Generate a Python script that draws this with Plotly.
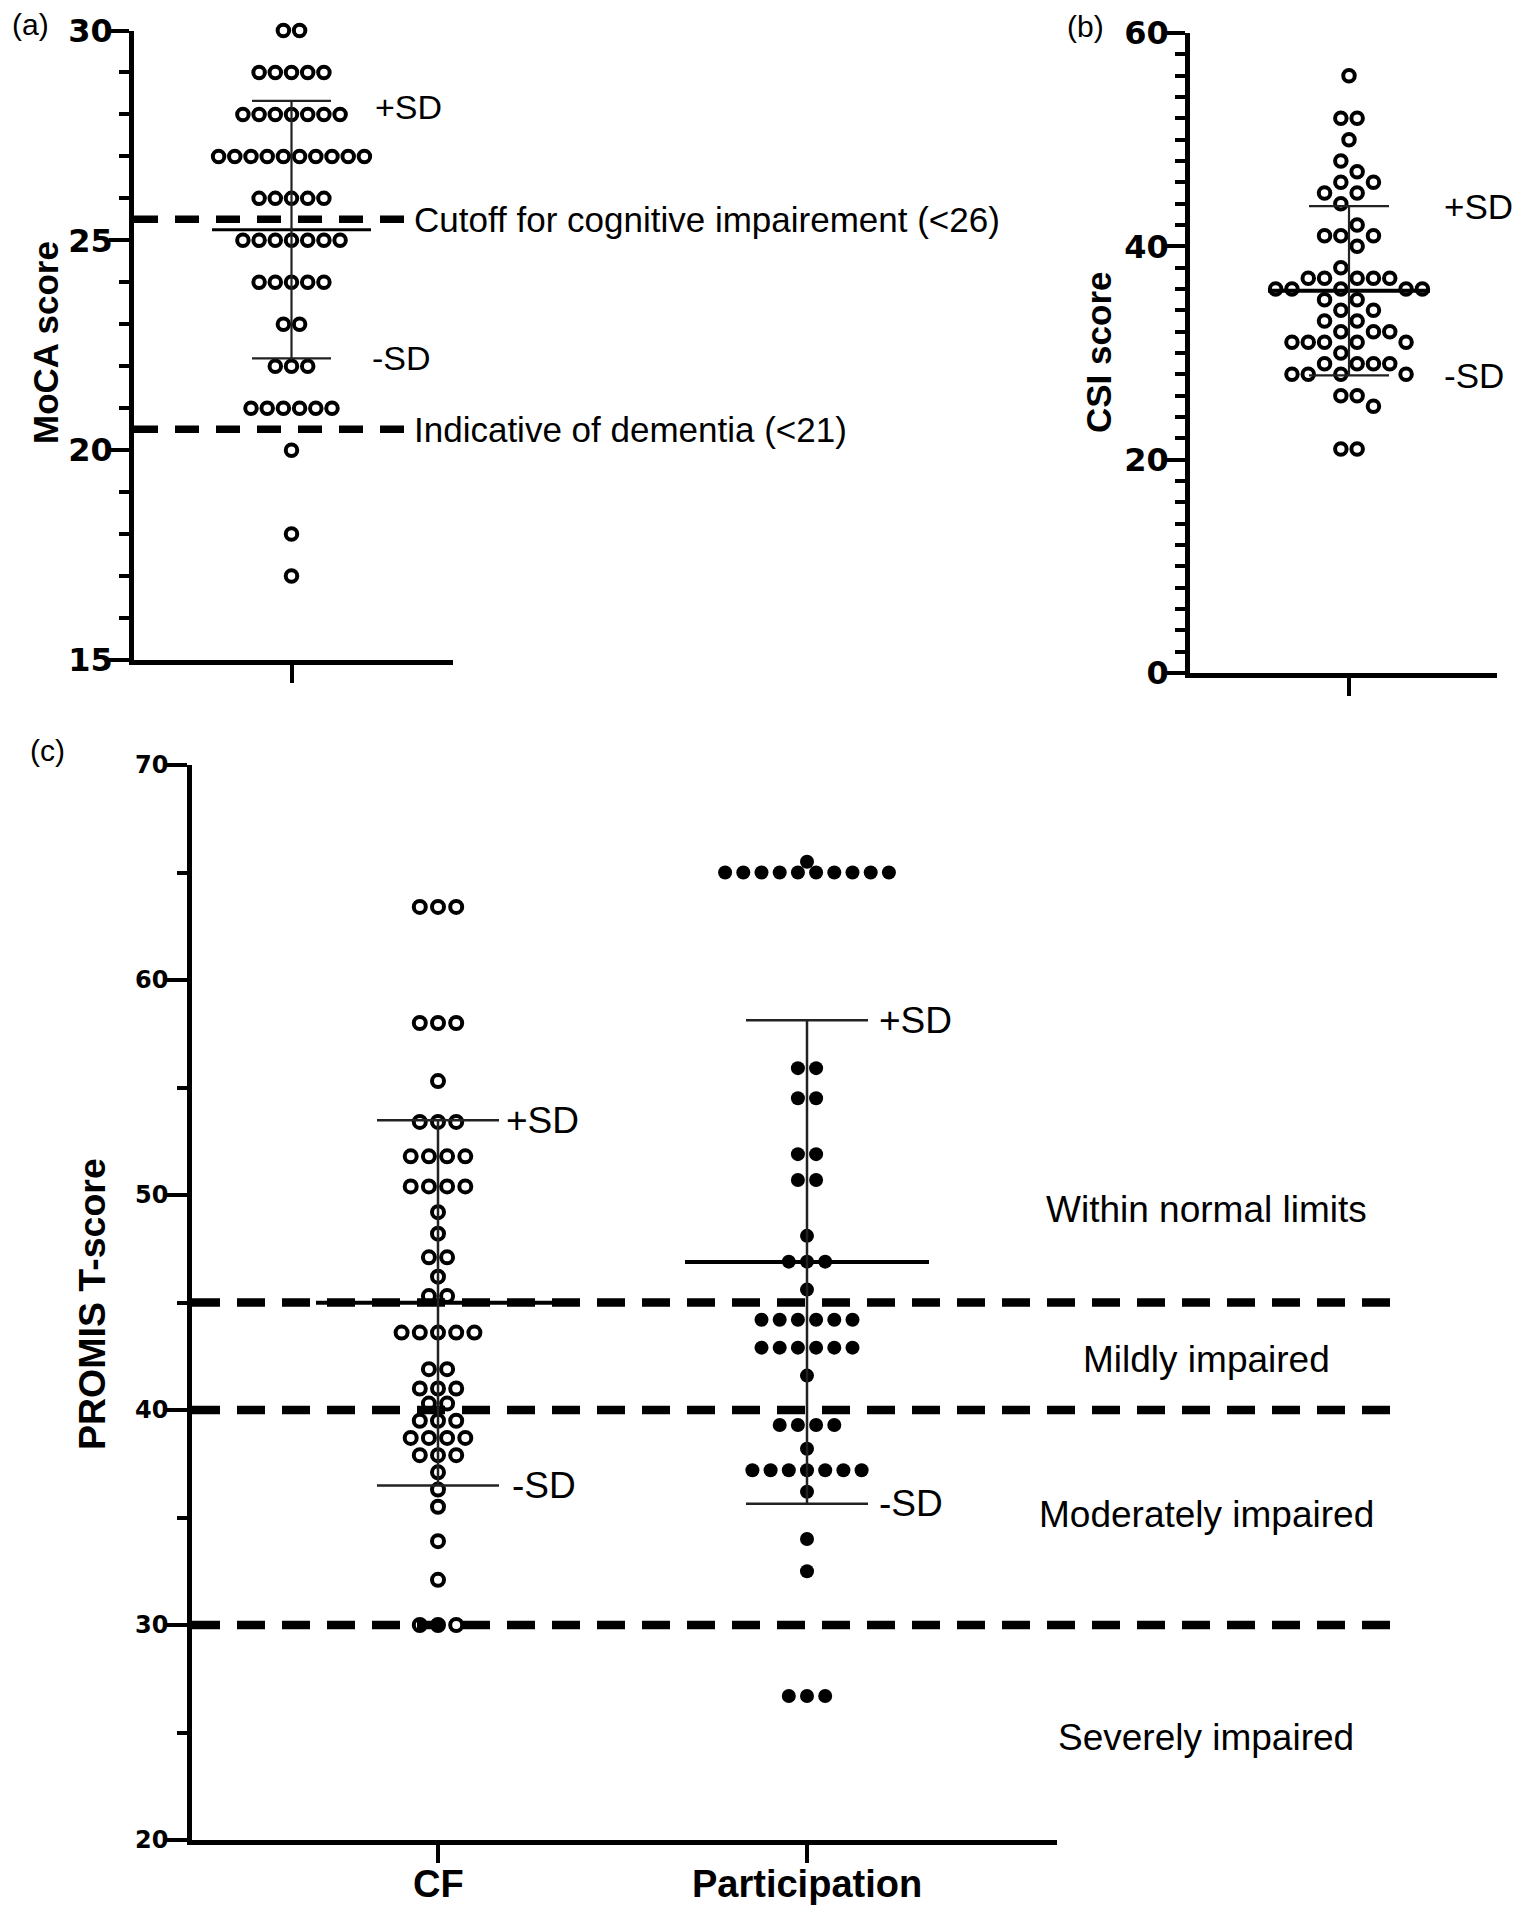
import numpy as np
import plotly.graph_objects as go

# ---------------- data ----------------
MOCA_SCORES = [30, 29, 28, 27, 26, 25, 24, 23, 22, 21, 20, 18, 17]
MOCA_COUNTS = [2, 5, 7, 10, 5, 7, 5, 2, 3, 6, 1, 1, 1]
MOCA_CUTOFFS = [25.5, 20.5]
MOCA_CUTOFF_LABELS = ["Cutoff for cognitive impairement (<26)", "Indicative of dementia (<21)"]

CSI_SCORES = [56, 52, 50, 48, 47, 46, 45, 44, 42, 41, 40, 38, 37, 36, 35, 34, 33, 32, 31, 30, 29, 28, 26, 25, 21]
CSI_COUNTS = [1, 2, 1, 1, 1, 2, 2, 1, 1, 3, 1, 1, 5, 5, 2, 2, 2, 3, 5, 1, 4, 4, 2, 1, 2]

CF_SCORES = [63.4, 58.0, 55.3, 53.4, 51.8, 50.4, 49.2, 48.2, 47.1, 46.2, 45.3, 43.6, 41.9, 41.0,
             40.3, 39.5, 38.7, 37.9, 37.1, 36.3, 35.5, 33.9, 32.1, 30.0]
CF_COUNTS = [3, 3, 1, 3, 4, 4, 1, 1, 2, 1, 2, 5, 2, 3, 2, 3, 4, 3, 1, 1, 1, 1, 1, 3]
PART_SCORES = [65.5, 65.0, 55.9, 54.5, 51.9, 50.7, 48.1, 46.9, 45.6, 44.2, 42.9, 41.6, 39.3, 38.2,
               37.2, 36.2, 34.0, 32.5, 26.7]
PART_COUNTS = [1, 10, 2, 2, 2, 2, 1, 3, 1, 6, 6, 1, 4, 1, 7, 1, 1, 1, 3]
PROMIS_CATEGORIES = ["CF", "Participation"]
PROMIS_CUTOFFS = [45, 40, 30]
PROMIS_BAND_LABELS = ["Within normal limits", "Mildly impaired", "Moderately impaired", "Severely impaired"]

# ---------------- geometry (screen pixels) ----------------
OFF = 8                      # default page margin around the plot div
W, H = 1524 - 2 * OFF, 1920 - 2 * OFF
FONT = "Liberation Sans, Arial, Helvetica, sans-serif"
TICKFONT = "DejaVu Sans, Liberation Sans, Arial, sans-serif"

A_AXIS_X, A_CAT_X, A_RIGHT_X, A_TOP_Y, A_BOT_Y = 134, 291.5, 453, 30.5, 660
B_AXIS_X, B_CAT_X, B_RIGHT_X, B_TOP_Y, B_BOT_Y = 1190, 1349, 1497, 33, 673
C_AXIS_X, C_CAT0_X, C_CAT1_X, C_RIGHT_X, C_DASH_END_X, C_TOP_Y, C_BOT_Y = 192, 438, 807, 1057, 1393, 765, 1840
C_PX_PER_CAT = C_CAT1_X - C_CAT0_X

SP_A, SP_B, SP_C = 16.2, 16.3, 18.2


def px_x(px):
    return (px - OFF) / W


def px_y(py):
    return 1 - (py - OFF) / H


def expand(scores, counts):
    return np.repeat(np.array(scores, dtype=float), counts)


def row_layout(scores, counts, step):
    xs, ys = [], []
    for v, n in zip(scores, counts):
        for i in range(n):
            xs.append((i - (n - 1) / 2) * step)
            ys.append(v)
    return np.array(xs), np.array(ys)


def swarm_layout(scores, counts, step):
    """Greedy swarm on a half-step grid: a point may not share a slot with a point
    less than 1.5 score units away; isolated values sit on the centre line."""
    vals = sorted(expand(scores, counts), reverse=True)
    h = step / 2
    placed, xs = [], []
    for v in vals:
        isolated = all(abs(v - w) > 1.5 for w in vals if w != v) and list(vals).count(v) == 1
        if isolated:
            chosen = 0
        else:
            chosen = None
            for k in range(1, 80, 2):
                valid = [m for m in (-k, k)
                         if all(not (abs(m - pm) < 2 and abs(v - pv) < 1.5) for pm, pv in placed)]
                if valid:
                    if len(valid) == 2:
                        left = sum(1 for pm, _ in placed if pm < 0)
                        right = sum(1 for pm, _ in placed if pm > 0)
                        chosen = valid[1] if right < left else valid[0]
                    else:
                        chosen = valid[0]
                    break
        placed.append((chosen, v))
        xs.append(chosen * h)
    return np.array(xs), np.array(vals)


def stats(scores, counts):
    v = expand(scores, counts)
    return v.mean(), v.std(ddof=1)


def mean_sd_lines(center, m, s, mean_hw, cap_hw):
    x = [center - mean_hw, center + mean_hw, None,
         center - cap_hw, center + cap_hw, None,
         center - cap_hw, center + cap_hw, None,
         center, center]
    y = [m, m, None, m + s, m + s, None, m - s, m - s, None, m - s, m + s]
    return x, y


fig = go.Figure()

open_marker = dict(symbol="circle-open", size=11.5, color="black", line=dict(width=4, color="black"))

# ---- panel a ----
ax, ay = row_layout(MOCA_SCORES, MOCA_COUNTS, SP_A)
fig.add_trace(go.Scatter(x=ax, y=ay, mode="markers", marker=open_marker, cliponaxis=False,
                         xaxis="x", yaxis="y", showlegend=False))
am, asd = stats(MOCA_SCORES, MOCA_COUNTS)
lx, ly = mean_sd_lines(0, am, asd, 79.5, 39.5)
fig.add_trace(go.Scatter(x=lx[:2], y=ly[:2], mode="lines", line=dict(color="black", width=3),
                         xaxis="x", yaxis="y", showlegend=False, cliponaxis=False))
fig.add_trace(go.Scatter(x=lx[3:], y=ly[3:], mode="lines", line=dict(color="#222", width=2.2),
                         xaxis="x", yaxis="y", showlegend=False, cliponaxis=False))

# ---- panel b ----
bx, by = swarm_layout(CSI_SCORES, CSI_COUNTS, SP_B)
fig.add_trace(go.Scatter(x=bx, y=by, mode="markers", marker=open_marker, cliponaxis=False,
                         xaxis="x2", yaxis="y2", showlegend=False))
bm, bsd = stats(CSI_SCORES, CSI_COUNTS)
lx, ly = mean_sd_lines(0, bm, bsd, 81, 40)
fig.add_trace(go.Scatter(x=lx[:2], y=ly[:2], mode="lines", line=dict(color="black", width=4),
                         xaxis="x2", yaxis="y2", showlegend=False, cliponaxis=False))
fig.add_trace(go.Scatter(x=lx[3:], y=ly[3:], mode="lines", line=dict(color="#222", width=2.2),
                         xaxis="x2", yaxis="y2", showlegend=False, cliponaxis=False))

# ---- panel c ----
step_c = SP_C / C_PX_PER_CAT
cfx, cfy = row_layout(CF_SCORES, CF_COUNTS, step_c)
fig.add_trace(go.Scatter(x=cfx + 0, y=cfy, mode="markers",
                         marker=dict(symbol="circle-open", size=12, color="black",
                                     line=dict(width=4, color="black")),
                         cliponaxis=False, xaxis="x3", yaxis="y3", showlegend=False))
ppx, ppy = row_layout(PART_SCORES, PART_COUNTS, step_c)
fig.add_trace(go.Scatter(x=ppx + 1, y=ppy, mode="markers",
                         marker=dict(symbol="circle", size=14, color="black", line=dict(width=0)),
                         cliponaxis=False, xaxis="x3", yaxis="y3", showlegend=False))
cm, csd = stats(CF_SCORES, CF_COUNTS)
pm, psd = stats(PART_SCORES, PART_COUNTS)
for ci, (m, s) in enumerate([(cm, csd), (pm, psd)]):
    lx, ly = mean_sd_lines(ci, m, s, 122 / C_PX_PER_CAT, 61 / C_PX_PER_CAT)
    fig.add_trace(go.Scatter(x=lx[:2], y=ly[:2], mode="lines", line=dict(color="black", width=4),
                             xaxis="x3", yaxis="y3", showlegend=False, cliponaxis=False))
    fig.add_trace(go.Scatter(x=lx[3:], y=ly[3:], mode="lines", line=dict(color="#222", width=2.5),
                             xaxis="x3", yaxis="y3", showlegend=False, cliponaxis=False))


# ---------------- axes ----------------
def yax(domain, rng, dtick, minor_dtick, anchor, fsize, ticklen=20, standoff=0):
    return dict(domain=domain, range=rng, anchor=anchor, dtick=dtick, tick0=rng[0], automargin=False,
                showline=True, linewidth=4.5, linecolor="black", ticks="outside",
                ticklen=ticklen, tickwidth=4, tickcolor="black", showgrid=False, zeroline=False,
                ticklabelstandoff=standoff,
                tickfont=dict(family=TICKFONT, size=fsize, color="black", weight="bold"),
                minor=dict(dtick=minor_dtick, tick0=rng[0], ticks="outside", ticklen=10, tickwidth=4,
                           tickcolor="black", showgrid=False))


def xax(domain, rng, anchor, tickvals):
    return dict(domain=domain, range=rng, anchor=anchor, tickvals=tickvals,
                ticktext=[""] * len(tickvals),
                automargin=False, showline=True, linewidth=4.5, linecolor="black", ticks="outside",
                ticklen=18, tickwidth=4, tickcolor="black", showgrid=False, zeroline=False)


fig.update_layout(
    width=W, height=H, margin=dict(l=0, r=0, t=0, b=0, pad=0),
    paper_bgcolor="white", plot_bgcolor="white", showlegend=False,
    xaxis=xax([px_x(A_AXIS_X), px_x(A_RIGHT_X)], [A_AXIS_X - A_CAT_X, A_RIGHT_X - A_CAT_X], "y", [0]),
    yaxis=yax([px_y(A_BOT_Y), px_y(A_TOP_Y)], [15, 30], 5, 1, "x", 32, standoff=-10),
    xaxis2=xax([px_x(B_AXIS_X), px_x(B_RIGHT_X)], [B_AXIS_X - B_CAT_X, B_RIGHT_X - B_CAT_X], "y2", [0]),
    yaxis2=yax([px_y(B_BOT_Y), px_y(B_TOP_Y)], [0, 60], 20, 2, "x2", 32, ticklen=18, standoff=-8),
    xaxis3=xax([px_x(C_AXIS_X), px_x(C_RIGHT_X)],
               [(C_AXIS_X - C_CAT0_X) / C_PX_PER_CAT, (C_RIGHT_X - C_CAT0_X) / C_PX_PER_CAT],
               "y3", [0, 1]),
    yaxis3=yax([px_y(C_BOT_Y), px_y(C_TOP_Y)], [20, 70], 10, 5, "x3", 24, ticklen=22, standoff=-8),
)

# ---------------- dashed reference lines ----------------
shapes = []
for v in MOCA_CUTOFFS:
    shapes.append(dict(type="line", xref="paper", yref="y", x0=px_x(A_AXIS_X), x1=px_x(404), y0=v, y1=v,
                       line=dict(color="black", width=7.5, dash="24px,17px"), layer="below"))
for v in PROMIS_CUTOFFS:
    shapes.append(dict(type="line", xref="paper", yref="y3", x0=px_x(C_AXIS_X), x1=px_x(C_DASH_END_X),
                       y0=v, y1=v, line=dict(color="black", width=8.5, dash="28px,17px"), layer="below"))
fig.update_layout(shapes=shapes)

# ---------------- text ----------------
ann = []


def label(text, x, y, xref="paper", yref="paper", size=34, xanchor="left", bold=False, angle=0, yshift=0):
    ann.append(dict(text=text, x=x, y=y, xref=xref, yref=yref, xanchor=xanchor, yanchor="middle",
                    showarrow=False, textangle=angle, yshift=yshift,
                    font=dict(family=FONT, size=size, color="black", weight="bold" if bold else "normal")))


# panel letters
label("(a)", px_x(10), px_y(25), size=30)
label("(b)", px_x(1065), px_y(27), size=30)
label("(c)", px_x(28), px_y(751), size=30)

# axis titles
label("MoCA score", px_x(45), px_y(343), size=35, xanchor="center", bold=True, angle=-90)
label("CSI score", px_x(1098), px_y(353), size=35, xanchor="center", bold=True, angle=-90)
label("PROMIS T-score", px_x(92), px_y(1304), size=37.5, xanchor="center", bold=True, angle=-90)

# category labels of panel c, placed on the category positions of the x axis
for i, cat in enumerate(PROMIS_CATEGORIES):
    label(cat, i, px_y(1884), xref="x3", size=38, xanchor="center", bold=True)

# panel a labels
label("+SD", px_x(373), am + asd, yref="y", size=34, yshift=-6)
label("-SD", px_x(370), am - asd, yref="y", size=34)
for v, t in zip(MOCA_CUTOFFS, MOCA_CUTOFF_LABELS):
    label(t, px_x(412), v, yref="y", size=35)

# panel b labels
label("+SD", px_x(1442), bm + bsd, yref="y2", size=35)
label("-SD", px_x(1442), bm - bsd, yref="y2", size=35)

# panel c labels
label("+SD", px_x(504), cm + csd, yref="y3", size=37)
label("-SD", px_x(510), cm - csd, yref="y3", size=37)
label("+SD", px_x(877), pm + psd, yref="y3", size=37)
label("-SD", px_x(877), pm - psd, yref="y3", size=37)

BAND_Y = [1209, 1359, 1514, 1737]
for t, yy in zip(PROMIS_BAND_LABELS, BAND_Y):
    label(t, px_x(1206), px_y(yy), size=37, xanchor="center")

fig.update_layout(annotations=ann)
fig.write_html("out.html")
